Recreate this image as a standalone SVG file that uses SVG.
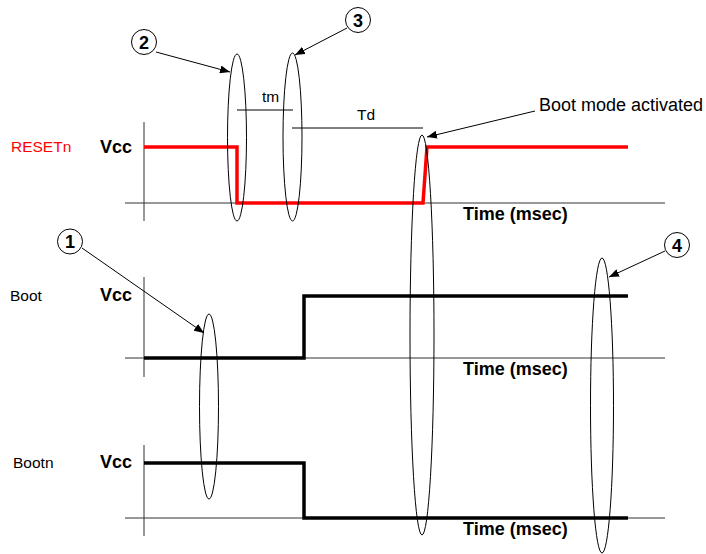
<svg xmlns="http://www.w3.org/2000/svg" width="706" height="554" viewBox="0 0 706 554">
<defs>
<style>
.axis{stroke:#333;stroke-width:1;fill:none}
.sig{stroke:#000;stroke-width:3.5;fill:none;stroke-linejoin:miter}
.red{stroke:#ff0000}
.ell{stroke:#000;stroke-width:1;fill:none}
.thin{stroke:#000;stroke-width:1;fill:none}
.arr{stroke:#000;stroke-width:1;fill:none;marker-end:url(#ah)}
.lbl{font-family:"Liberation Sans",Arial,sans-serif;font-size:15.5px;fill:#000}
.b{font-family:"Liberation Sans",Arial,sans-serif;font-size:18px;font-weight:bold;fill:#000}
.num{font-family:"Liberation Sans",Arial,sans-serif;font-size:18px;font-weight:bold;fill:#000;text-anchor:middle}
.circ{stroke:#000;stroke-width:1;fill:#fff}
</style>
<marker id="ah" viewBox="0 0 10 8" refX="10" refY="4" markerWidth="10" markerHeight="8" markerUnits="userSpaceOnUse" orient="auto">
<path d="M0,0 L10,4 L0,8 z" fill="#000"/>
</marker>
</defs>
<rect width="706" height="554" fill="#fff"/>

<g id="axes">
<line class="axis" x1="144" y1="122" x2="144" y2="221"/>
<line class="axis" x1="125" y1="203" x2="665" y2="203"/>
<line class="axis" x1="144" y1="277" x2="144" y2="377"/>
<line class="axis" x1="125" y1="358" x2="665" y2="358"/>
<line class="axis" x1="144" y1="445" x2="144" y2="536"/>
<line class="axis" x1="125" y1="518" x2="665" y2="518"/>
</g>

<g id="labels">
<text class="lbl" x="11" y="152" style="fill:#ff0000">RESETn</text>
<text class="b" x="100" y="153">Vcc</text>
<text class="lbl" x="10" y="301">Boot</text>
<text class="b" x="100" y="301">Vcc</text>
<text class="lbl" x="13" y="468">Bootn</text>
<text class="b" x="100" y="468">Vcc</text>
<text class="b" x="463" y="220">Time (msec)</text>
<text class="b" x="463" y="375">Time (msec)</text>
<text class="b" x="463" y="535">Time (msec)</text>
</g>

<g id="signals">
<path id="resetn" class="sig red" d="M144,147 H237 V203 H423 L427,147 H628"/>
<path id="boot" class="sig" d="M144,358 H304 V296 H628"/>
<path id="bootn" class="sig" d="M144,463 H304 V518 H628"/>
</g>

<g id="timing">
<line class="thin" x1="237" y1="110" x2="293" y2="110"/>
<text class="lbl" x="262" y="102">tm</text>
<line class="thin" x1="292" y1="128" x2="423" y2="128"/>
<text class="lbl" x="357" y="120">Td</text>
</g>

<g id="ellipses">
<ellipse id="e1" class="ell" cx="209" cy="406.5" rx="9.5" ry="92.5"/>
<ellipse id="e2" class="ell" cx="237" cy="137.5" rx="9.5" ry="83.5"/>
<ellipse id="e3" class="ell" cx="292.5" cy="137" rx="9.5" ry="84"/>
<ellipse id="eact" class="ell" cx="422" cy="335" rx="12" ry="200"/>
<ellipse id="e4" class="ell" cx="602" cy="405.5" rx="11.5" ry="147.5"/>
</g>

<g id="connectors">
<line class="arr" x1="82" y1="248" x2="204" y2="333"/>
<line class="arr" x1="156" y1="52" x2="230" y2="72"/>
<line class="arr" x1="347" y1="28" x2="295" y2="55"/>
<line class="arr" x1="535" y1="111" x2="427" y2="137"/>
<line class="arr" x1="665" y1="251" x2="609" y2="277"/>
</g>

<g id="n1"><circle class="circ" cx="70" cy="241.5" r="12.5"/><text class="num" x="70" y="248">1</text></g>
<g id="n2"><circle class="circ" cx="144" cy="42" r="12.5"/><text class="num" x="144" y="48.5">2</text></g>
<g id="n3"><circle class="circ" cx="358" cy="20" r="12.5"/><text class="num" x="358" y="26.5">3</text></g>
<g id="n4"><circle class="circ" cx="677" cy="245" r="12.5"/><text class="num" x="677" y="251.5">4</text></g>
<g id="nact"><text class="b" x="539" y="111" style="font-weight:normal">Boot mode activated</text></g>
</svg>
